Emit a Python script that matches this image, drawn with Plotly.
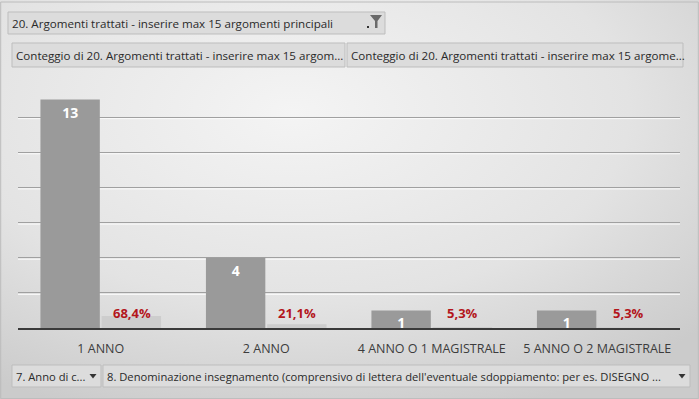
import base64
import plotly.graph_objects as go

# ---- data ----
categories = ["1 ANNO", "2 ANNO", "4 ANNO O 1 MAGISTRALE", "5 ANNO O 2 MAGISTRALE"]
counts = [13, 4, 1, 1]
shares = [0.684, 0.211, 0.053, 0.053]
grid_values = [2, 4, 6, 8, 10, 12]

filter_title = "20. Argomenti trattati - inserire max 15 argomenti principali"
value_buttons = [
    "Conteggio di 20. Argomenti trattati - inserire max 15 argom...",
    "Conteggio di 20. Argomenti trattati - inserire max 15 argome...",
]
axis_buttons = [
    "7. Anno di c...",
    "8. Denominazione insegnamento (comprensivo di lettera dell'eventuale sdoppiamento: per es. DISEGNO ...",
]

W, H = 699, 399
FONT = "Open Sans"


def px(x):
    return x / W


def py(y):
    return 1 - y / H


fig = go.Figure()
fig.add_trace(go.Bar(
    x=categories, y=counts, name="Conteggio",
    marker=dict(color="#9a9a9a", line=dict(width=0)),
    texttemplate="%{y}", textposition="inside", insidetextanchor="end",
    constraintext="none", textangle=0,
    textfont=dict(family=FONT, size=14, color="white", weight="bold"),
    hoverinfo="skip",
))
fig.add_trace(go.Bar(
    x=categories, y=shares, name="Percentuale",
    marker=dict(color="#cdcdcd", line=dict(width=0)),
    hoverinfo="skip",
))

# background gradient
svg = ("<svg xmlns='http://www.w3.org/2000/svg' width='699' height='399'>"
       "<defs><radialGradient id='g' cx='0.42' cy='0.28' r='0.8'>"
       "<stop offset='0' stop-color='#f4f4f4'/><stop offset='0.6' stop-color='#e3e3e3'/>"
       "<stop offset='1' stop-color='#cbcbcb'/></radialGradient></defs>"
       "<rect width='699' height='399' fill='url(#g)'/></svg>")
bg = "data:image/svg+xml;base64," + base64.b64encode(svg.encode()).decode()

shapes = []
annotations = []

# percentage labels (Excel places them at a common height above the category baseline)
for cat, s in zip(categories, shares):
    annotations.append(dict(xref="x", yref="y", x=cat, y=0, xshift=31, yshift=15,
                            text=f"{s*100:.1f}%".replace(".", ","), showarrow=False,
                            yanchor="middle",
                            font=dict(family=FONT, size=13, color="#b3161c", weight="bold")))

# embossed highlight under each gridline
for g in grid_values:
    shapes.append(dict(type="line", xref="paper", yref="y", ysizemode="pixel", yanchor=g,
                       x0=px(18), x1=px(680), y0=-1.5, y1=-1.5,
                       line=dict(color="#fbfbfb", width=1), layer="below"))


def button(x0, y0, x1, y1, text, size=12, arrow=False):
    shapes.append(dict(type="rect", xref="paper", yref="paper",
                       x0=px(x0), x1=px(x1), y0=py(y1), y1=py(y0),
                       fillcolor="#dcdcdc", line=dict(color="#bdbdbd", width=1), layer="above"))
    annotations.append(dict(xref="paper", yref="paper", x=px(x0 + 2), y=py((y0 + y1) / 2),
                            xanchor="left", yanchor="middle", text=text, showarrow=False,
                            font=dict(family=FONT, size=size, color="#2a2a2a")))
    if arrow:
        cx, cy = x1 - 8, (y0 + y1) / 2
        shapes.append(dict(type="path", xref="paper", yref="paper",
                           path=f"M {px(cx-3.5)} {py(cy-2)} L {px(cx+3.5)} {py(cy-2)} L {px(cx)} {py(cy+2.5)} Z",
                           fillcolor="#333333", line=dict(width=0), layer="above"))


button(8, 12, 385, 34, filter_title, size=11.6)
# filter funnel icon
shapes.append(dict(type="path", xref="paper", yref="paper",
                   path=(f"M {px(370)} {py(15)} L {px(382)} {py(15)} L {px(377.5)} {py(21)} "
                         f"L {px(377.5)} {py(28)} L {px(375)} {py(28)} L {px(375)} {py(21)} Z"),
                   fillcolor="#6a6a6a", line=dict(width=0), layer="above"))
shapes.append(dict(type="rect", xref="paper", yref="paper",
                   x0=px(367), x1=px(369), y0=py(28), y1=py(26),
                   fillcolor="#333333", line=dict(width=0), layer="above"))

button(12, 43, 345, 67, value_buttons[0], size=11.6)
button(347, 43, 683, 67, value_buttons[1], size=11.6)
button(12, 365, 101, 387, axis_buttons[0], size=11.2, arrow=True)
button(103, 365, 690, 387, axis_buttons[1], size=11.2, arrow=True)

# outer frame
shapes.append(dict(type="rect", xref="paper", yref="paper", x0=0.001, x1=0.999, y0=0.001, y1=py(2),
                   line=dict(color="#bcbcbc", width=1), fillcolor="rgba(0,0,0,0)", layer="below"))

fig.update_layout(
    width=W, height=H,
    margin=dict(l=0, r=0, t=0, b=0),
    paper_bgcolor="#e4e4e4", plot_bgcolor="rgba(0,0,0,0)",
    images=[dict(source=bg, xref="paper", yref="paper", x=0, y=1, sizex=1, sizey=1,
                 sizing="stretch", layer="below", xanchor="left", yanchor="top")],
    barmode="group", bargap=0.26, bargroupgap=0.03,
    showlegend=False,
    separators=",.",
    shapes=shapes, annotations=annotations,
    xaxis=dict(domain=[px(18), px(680)], showgrid=False, showline=True,
               linecolor="#3a3a3a", linewidth=2, ticks="", ticklabelstandoff=8,
               tickfont=dict(family=FONT, size=12.5, color="#3c3c3c"), fixedrange=True),
    yaxis=dict(domain=[py(328), py(82)], range=[0, 14], tickvals=grid_values,
               showticklabels=False, showgrid=True, gridcolor="#a0a0a0", gridwidth=1.2,
               zeroline=False, showline=False, fixedrange=True),
)

fig.write_html("out.html", config={"displayModeBar": False},
               post_script="document.body.style.margin='0';document.body.style.overflow='hidden';")
